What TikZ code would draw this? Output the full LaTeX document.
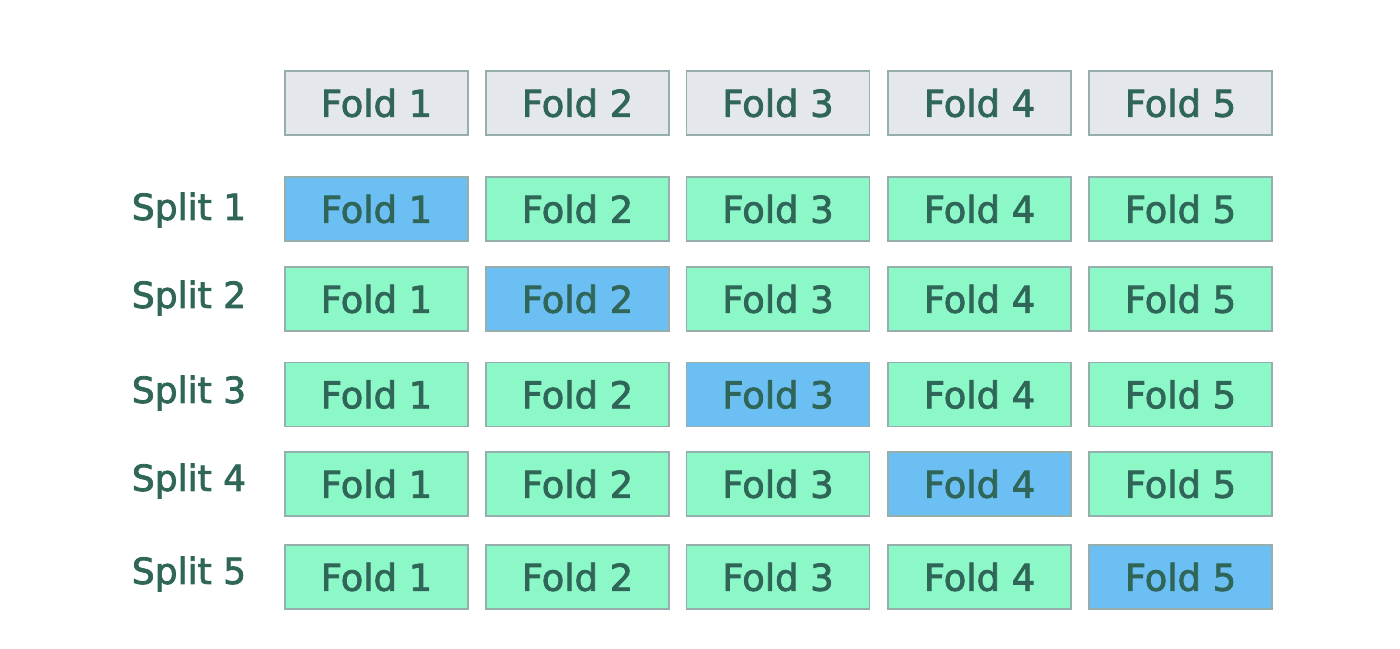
\documentclass[tikz,border=0pt]{standalone}
\usepackage{fontspec}
\setmainfont{DejaVu Sans}
\newfontfamily\foldfont{DejaVu Sans}[FakeBold=2.2]
\usetikzlibrary{positioning}
\definecolor{TxtClr}{RGB}{47,102,88}
\definecolor{EdgeClr}{RGB}{150,175,172}
\definecolor{HeadClr}{RGB}{228,232,236}
\definecolor{TestClr}{RGB}{108,191,242}
\definecolor{TrainClr}{RGB}{140,248,200}

\begin{document}
\begin{tikzpicture}[x=0.02cm,y=-0.02cm,
  foldbox/.style={draw=EdgeClr,line width=1.1pt,minimum width=3.66cm,minimum height=1.28cm,
    inner sep=0pt,text=TxtClr,font=\foldfont\fontsize{21}{25}\selectfont},
  headbox/.style={foldbox,fill=HeadClr},
  trainbox/.style={foldbox,fill=TrainClr},
  testbox/.style={foldbox,fill=TestClr},
  splitlbl/.style={text=TxtClr,font=\foldfont\fontsize{20.5}{25}\selectfont,inner sep=0pt}]
\useasboundingbox (0,0) rectangle (1400,649);

% header row
\foreach \c/\x in {1/376.5,2/577.5,3/778,4/979.5,5/1180.5}
  \node[headbox] (head\c) at (\x,103) {Fold \c};

% split rows
\foreach \r/\y/\ly in {1/209/210,2/299/298,3/394.5/393,4/484/481,5/577/574}{
  \node[splitlbl] (split\r) at (189,\ly) {Split \r};
  \foreach \c/\x in {1/376.5,2/577.5,3/778,4/979.5,5/1180.5}{
    \ifnum\c=\r
      \node[testbox] (s\r f\c) at (\x,\y) {Fold \c};
    \else
      \node[trainbox] (s\r f\c) at (\x,\y) {Fold \c};
    \fi
  }
}

\end{tikzpicture}
\end{document}
